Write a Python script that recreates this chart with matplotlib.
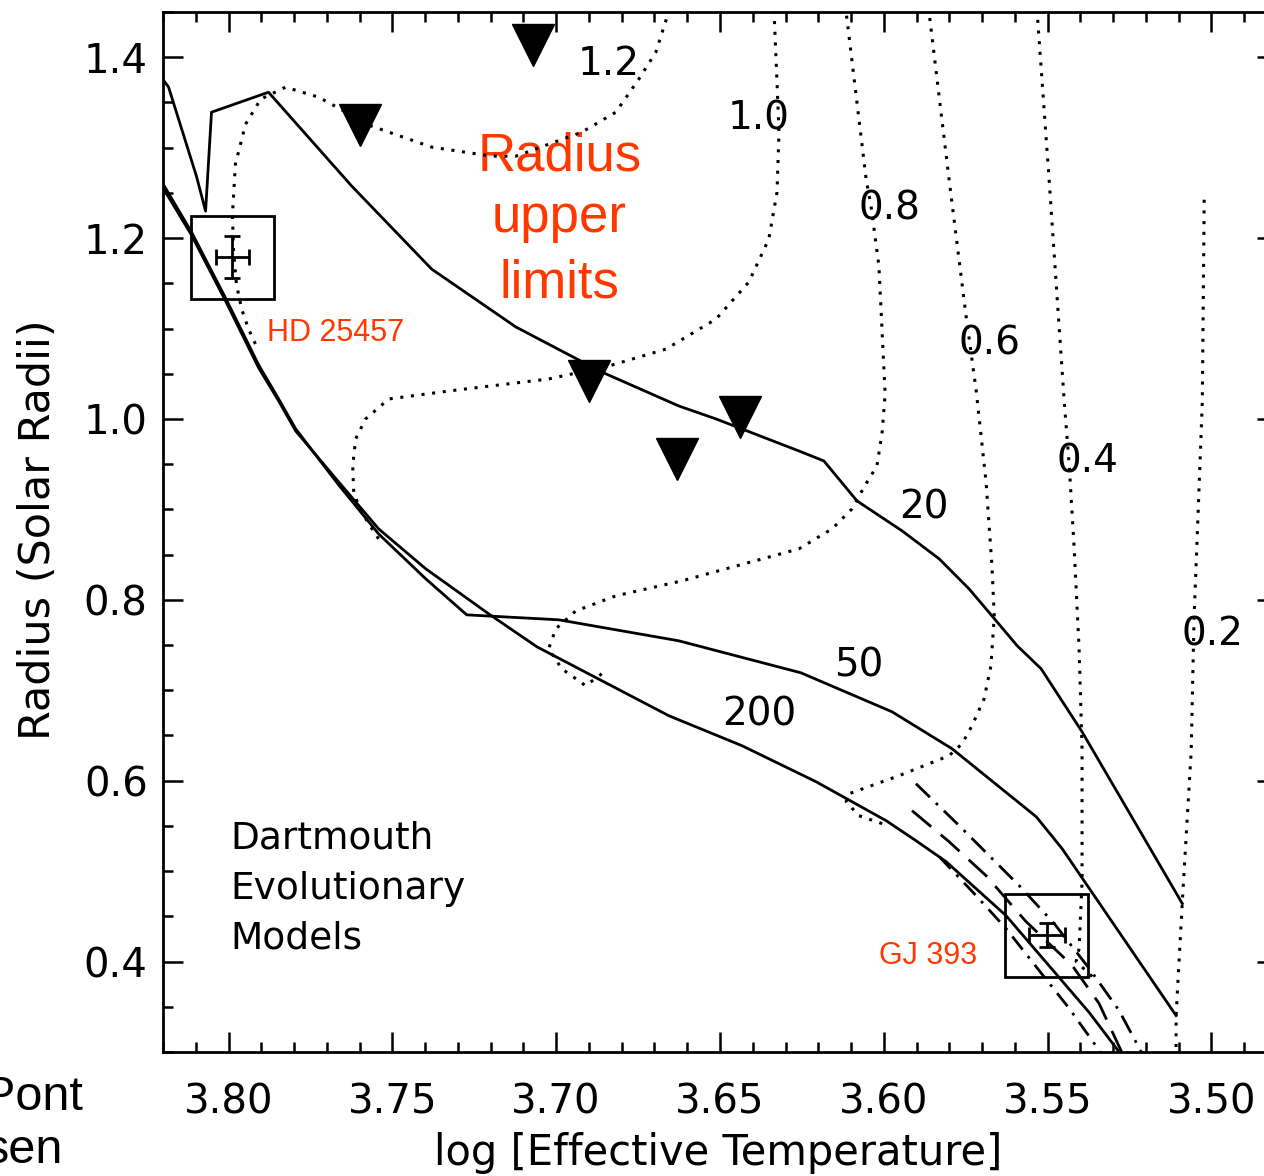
import matplotlib
matplotlib.use("Agg")
import matplotlib.pyplot as plt
import matplotlib.patches as patches

RED = "#ff3800"

# isochrones (log Teff, R/Rsun), ages in Myr
iso20_t = [3.8205, 3.8183, 3.8098, 3.8070, 3.8052, 3.7878, 3.7624, 3.7380, 3.7123, 3.6861,
           3.6626, 3.6512, 3.6259, 3.6183, 3.6082, 3.5944, 3.5831, 3.5740, 3.5670, 3.5593,
           3.5520, 3.5395, 3.5089]
iso20_r = [1.3779, 1.3669, 1.2685, 1.2298, 1.3392, 1.3613, 1.2575, 1.1657, 1.1017, 1.0519,
           1.0144, 1.0000, 0.9646, 0.9536, 0.9094, 0.8762, 0.8453, 0.8122, 0.7823, 0.7492,
           0.7238, 0.6541, 0.4641]

iso50_t = [3.8205, 3.8113, 3.8009, 3.7908, 3.7847, 3.7795, 3.7664, 3.7542, 3.7398, 3.7273,
           3.6992, 3.6626, 3.6253, 3.5975, 3.5792, 3.5535, 3.5456, 3.5108]
iso50_r = [1.2630, 1.2066, 1.1337, 1.0597, 1.0221, 0.9890, 0.9271, 0.8729, 0.8232, 0.7834,
           0.7779, 0.7547, 0.7193, 0.6762, 0.6354, 0.5602, 0.5249, 0.3403]

iso200_t = [3.8205, 3.8113, 3.8009, 3.7908, 3.7847, 3.7795, 3.7664, 3.7542, 3.7398, 3.7206,
            3.7059, 3.6656, 3.6433, 3.6207, 3.5993, 3.5902, 3.5810, 3.5627, 3.5373, 3.5266]
iso200_r = [1.2586, 1.2033, 1.1304, 1.0564, 1.0199, 0.9867, 0.9304, 0.8785, 0.8343, 0.7845,
            0.7481, 0.6718, 0.6387, 0.5989, 0.5558, 0.5337, 0.5105, 0.4508, 0.3436, 0.2925]

# older isochrones, low-mass end
oldA_t = [3.5902, 3.5770, 3.5587, 3.5480, 3.5373, 3.5282, 3.5205]
oldA_r = [0.5967, 0.5503, 0.4840, 0.4420, 0.3923, 0.3459, 0.2937]
oldB_t = [3.5914, 3.5801, 3.5688, 3.5566, 3.5425, 3.5343, 3.5266]
oldB_r = [0.5669, 0.5326, 0.4950, 0.4442, 0.3956, 0.3536, 0.2937]
oldC_t = [3.5831, 3.5724, 3.5627, 3.5526, 3.5434, 3.5327]
oldC_r = [0.5160, 0.4751, 0.4365, 0.3901, 0.3481, 0.2937]

# mass tracks (Msun)
m12_t = [3.7918, 3.7939, 3.7960, 3.7976, 3.7985, 3.7988, 3.7979, 3.7948, 3.7902, 3.7826,
         3.7725, 3.7563, 3.7380, 3.7197, 3.7123, 3.6922, 3.6818, 3.6748, 3.6696, 3.6656]
m12_r = [1.0829, 1.0994, 1.1215, 1.1492, 1.1878, 1.2265, 1.2818, 1.3260, 1.3536, 1.3669,
         1.3558, 1.3238, 1.3006, 1.2906, 1.2906, 1.3171, 1.3392, 1.3757, 1.4055, 1.4508]
m10_t = [3.7542, 3.7572, 3.7603, 3.7618, 3.7621, 3.7612, 3.7582, 3.7511, 3.7328, 3.7023,
         3.6839, 3.6665, 3.6512, 3.6412, 3.6351, 3.6326, 3.6320, 3.6326, 3.6335]
m10_r = [0.8674, 0.8840, 0.9039, 0.9193, 0.9481, 0.9779, 0.9999, 1.0221, 1.0309, 1.0442,
         1.0586, 1.0773, 1.1105, 1.1514, 1.1989, 1.2508, 1.3171, 1.3724, 1.4497]
m08_t = [3.6861, 3.6910, 3.6983, 3.7023, 3.7001, 3.6940, 3.6818, 3.6616, 3.6259, 3.6158,
         3.6097, 3.6060, 3.6021, 3.6005, 3.5996, 3.6015, 3.6039, 3.6054, 3.6115]
m08_r = [0.7182, 0.7050, 0.7238, 0.7459, 0.7680, 0.7878, 0.8044, 0.8210, 0.8564, 0.8785,
         0.9006, 0.9249, 0.9481, 0.9856, 1.0276, 1.1691, 1.2354, 1.2652, 1.4497]
m06_t = [3.6005, 3.6076, 3.6115, 3.6106, 3.5954, 3.5801, 3.5761, 3.5731, 3.5694, 3.5673,
         3.5663, 3.5670, 3.5688, 3.5718, 3.5749, 3.5801, 3.5862]
m06_r = [0.5525, 0.5613, 0.5768, 0.5856, 0.6055, 0.6276, 0.6409, 0.6608, 0.6906, 0.7271,
         0.7823, 0.8376, 0.9304, 1.0309, 1.1138, 1.2652, 1.4497]
m04_t = [3.5364, 3.5413, 3.5404, 3.5395, 3.5395, 3.5404, 3.5419, 3.5434, 3.5450, 3.5495, 3.5532]
m04_r = [0.3834, 0.4000, 0.4144, 0.4884, 0.6354, 0.7459, 0.8564, 0.9481, 1.0221, 1.2619, 1.4497]
m02_t = [3.5108, 3.5108, 3.5089, 3.5062, 3.5053, 3.5043, 3.5028, 3.5022]
m02_r = [0.2937, 0.3403, 0.4663, 0.6320, 0.7823, 0.8751, 1.0188, 1.2508]

# radius upper limits
lim_t = [3.7071, 3.7600, 3.6900, 3.6439, 3.6630]
lim_r = [1.4133, 1.3249, 1.0420, 1.0020, 0.9560]

# stars with measured radii
star_names = ["HD 25457", "GJ 393"]
star_t = [3.7988, 3.5503]
star_r = [1.1790, 0.4293]
star_terr = [0.0049, 0.0055]
star_rerr = [0.0230, 0.0130]
box_dt = [0.0128, 0.0127]
box_dr = [0.0459, 0.0459]

track_labels = ["1.2", "1.0", "0.8", "0.6", "0.4", "0.2"]
track_label_t = [3.6839, 3.6381, 3.5984, 3.5679, 3.5379, 3.4998]
track_label_r = [1.3930, 1.3320, 1.2330, 1.0830, 0.9535, 0.7620]
age_labels = ["20", "50", "200"]
age_label_t = [3.5877, 3.6076, 3.6381]
age_label_r = [0.9020, 0.7270, 0.6730]


fig = plt.figure(figsize=(12.64, 11.76), dpi=100)
ax = fig.add_axes([0.12896, 0.10544, 0.88133, 0.88435])
ax.set_xlim(3.82, 3.48)
ax.set_ylim(0.30, 1.45)

lw = 2.0
dots = (0, (1, 2.5))
for t, r in [(m12_t, m12_r), (m10_t, m10_r), (m08_t, m08_r),
             (m06_t, m06_r), (m04_t, m04_r), (m02_t, m02_r)]:
    ax.plot(t, r, color="k", lw=2.2, linestyle=dots, zorder=3)

for t, r in [(iso20_t, iso20_r), (iso50_t, iso50_r), (iso200_t, iso200_r)]:
    ax.plot(t, r, color="k", lw=lw, zorder=4)

ax.plot(oldA_t, oldA_r, color="k", lw=lw, linestyle=(0, (7, 3, 1, 3)), zorder=4)
ax.plot(oldB_t, oldB_r, color="k", lw=lw, linestyle=(0, (9, 4.5)), zorder=4)
ax.plot(oldC_t, oldC_r, color="k", lw=lw, linestyle=(0, (6, 3, 1, 3)), zorder=4)

ax.plot(lim_t, lim_r, linestyle="none", marker="v", markersize=30,
        color="k", zorder=6)

for i in range(len(star_names)):
    ax.errorbar(star_t[i], star_r[i], xerr=star_terr[i], yerr=star_rerr[i],
                fmt="none", ecolor="k", elinewidth=lw, capsize=5.5,
                capthick=lw, zorder=6)
    box = patches.Rectangle((star_t[i] + box_dt[i], star_r[i] - box_dr[i]),
                            -2 * box_dt[i], 2 * box_dr[i], fill=False,
                            edgecolor="k", lw=lw, zorder=6)
    ax.add_patch(box)

for s, t, r in zip(track_labels, track_label_t, track_label_r):
    ax.text(t, r, s, fontsize=28, ha="center", va="center", zorder=2)
for s, t, r in zip(age_labels, age_label_t, age_label_r):
    ax.text(t, r, s, fontsize=28, ha="center", va="center", zorder=2)

# red annotations
for s, r in zip(["Radius", "upper", "limits"], [1.2751, 1.2066, 1.1348]):
    ax.text(3.699, r, s, fontsize=38, color=RED, family="Liberation Sans",
            ha="center", va="baseline", zorder=2)
ax.text(3.7884, 1.0862, star_names[0], fontsize=22, color=RED,
        family="Liberation Sans", ha="left", va="baseline")
ax.text(3.5715, 0.3978, star_names[1], fontsize=22, color=RED,
        family="Liberation Sans", ha="right", va="baseline")

for s, r in zip(["Dartmouth", "Evolutionary", "Models"], [0.5249, 0.4696, 0.4144]):
    ax.text(3.7994, r, s, fontsize=27, ha="left", va="baseline")

ax.set_xticks([3.80, 3.75, 3.70, 3.65, 3.60, 3.55, 3.50])
ax.set_xticklabels(["3.80", "3.75", "3.70", "3.65", "3.60", "3.55", "3.50"])
ax.set_xticks([3.82 - 0.01 * i for i in range(35)], minor=True)
ax.set_yticks([0.4, 0.6, 0.8, 1.0, 1.2, 1.4])
ax.set_yticklabels(["0.4", "0.6", "0.8", "1.0", "1.2", "1.4"])
ax.set_yticks([0.30 + 0.05 * i for i in range(24)], minor=True)

ax.tick_params(which="both", direction="in", top=True, right=True,
               width=1.8, labelsize=29)
ax.tick_params(which="major", length=14.5)
ax.tick_params(which="minor", length=7)
ax.tick_params(axis="x", pad=22)
ax.tick_params(axis="y", pad=11)
for sp in ax.spines.values():
    sp.set_linewidth(2.0)

ax.set_xlabel("log [Effective Temperature]", fontsize=30)
ax.set_ylabel("Radius (Solar Radii)", fontsize=31)
ax.xaxis.set_label_coords(0.498, -0.077)
ax.yaxis.set_label_coords(-0.093, 0.502)

# cut-off text from the neighbouring panel
fig.text(0.0657, 0.0561, "Pont", fontsize=35, family="Liberation Sans",
         ha="right", va="baseline")
fig.text(0.0498, 0.0111, "sen", fontsize=35, family="Liberation Sans",
         ha="right", va="baseline")

fig.savefig("out.png", dpi=100)
